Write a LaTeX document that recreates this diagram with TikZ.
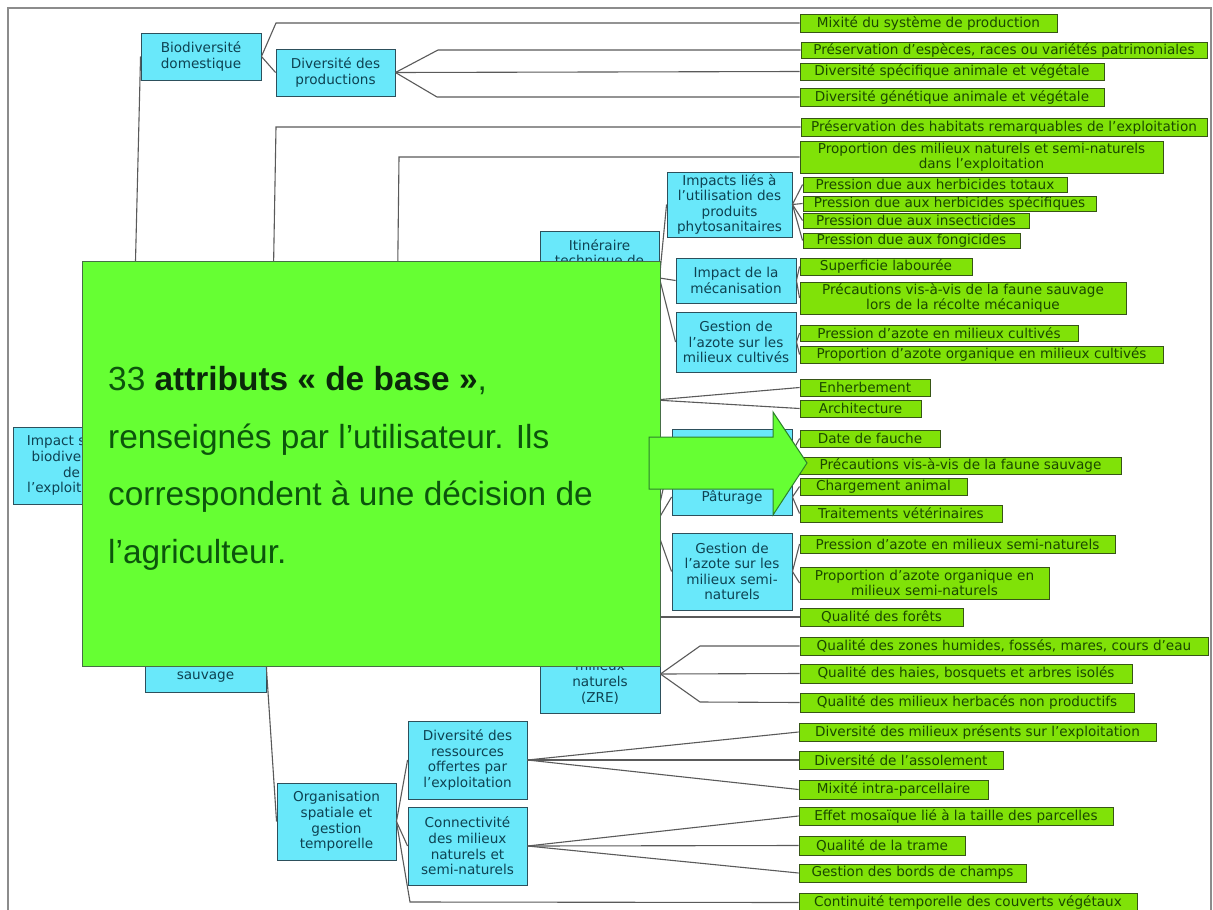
\documentclass[tikz,border=0pt]{standalone}
\usepackage{fontspec}
\setmainfont{Liberation Sans}
\newfontfamily\dvs{DejaVu Sans}
\definecolor{cyfill}{RGB}{105,232,250}
\definecolor{cydraw}{RGB}{45,80,92}
\definecolor{cytext}{RGB}{14,66,82}
\definecolor{lmfill}{RGB}{128,226,8}
\definecolor{lmdraw}{RGB}{55,85,22}
\definecolor{lmtext}{RGB}{26,72,0}
\definecolor{bigfill}{RGB}{102,255,51}
\definecolor{bigdraw}{RGB}{70,110,70}
\definecolor{bigtext}{RGB}{12,85,12}
\definecolor{bigbold}{RGB}{10,40,10}
\definecolor{arrdraw}{RGB}{45,130,45}
\definecolor{lncol}{RGB}{90,90,90}
\definecolor{framecol}{RGB}{140,140,140}
\newcommand{\mybox}[7]{\node[#1,minimum width={(#5-#3)*1pt},minimum height={(#6-#4)*1pt}] (#2) at ({(#3+#5)/2},{-(#4+#6)/2}) {#7};}
\begin{document}
\begin{tikzpicture}[x=1pt,y=1pt,
  cy/.style={draw=cydraw,fill=cyfill,line width=0.9pt,inner sep=0pt,align=center,text=cytext,font=\dvs\fontsize{13.6}{15.6}\selectfont},
  cytx/.style={inner sep=0pt,align=center,text=cytext,font=\dvs\fontsize{13.6}{15.6}\selectfont},
  lm/.style={draw=lmdraw,fill=lmfill,line width=0.9pt,inner sep=0pt,align=center,text=lmtext,font=\dvs\fontsize{13.6}{15}\selectfont},
  ln/.style={draw=lncol,line width=1.1pt},
  bigbox/.style={draw=bigdraw,fill=bigfill,line width=0.8pt,inner sep=0pt},
  bigtx/.style={anchor=base west,inner sep=0pt,text=bigtext,font=\fontsize{33.4}{40}\selectfont},
  arrowst/.style={draw=arrdraw,fill=bigfill,line width=1pt,line join=miter},
  framest/.style={draw=framecol,line width=1.5pt}]
\useasboundingbox (0,0) rectangle (1213,-910);
\fill[white] (0,0) rectangle (1213,-910);
\draw[framest] (8,-915) -- (8,-8) -- (1211,-8) -- (1211,-915);

% cyan boxes
\mybox{cy}{root}{13}{427}{130}{504}{Impact sur la\\biodiversité\\de\\l’exploitation}
\mybox{cy}{bio}{141}{33}{261}{80}{Biodiversité\\domestique}
\mybox{cy}{divprod}{276}{49}{395}{96}{Diversité des\\productions}
\mybox{cy}{sauv}{145}{645}{266}{692}{}
\node[cytx] (sauvt) at (205.5,-677) {sauvage};
\mybox{cy}{itin}{540}{231}{659}{325}{}
\node[cytx] (itint) at (599.5,-254) {Itinéraire\\technique de};
\mybox{cy}{impacts}{667}{172}{792}{237}{Impacts liés à\\l’utilisation des\\produits\\phytosanitaires}
\mybox{cy}{meca}{676}{258}{796}{303}{Impact de la\\mécanisation}
\mybox{cy}{gazc}{676}{312}{796}{372}{Gestion de\\l’azote sur les\\milieux cultivés}
\mybox{cy}{fauche}{672}{429}{792}{474}{}
\mybox{cy}{pat}{672}{479}{792}{515}{Pâturage}
\mybox{cy}{gazs}{672}{533}{792}{610}{Gestion de\\l’azote sur les\\milieux semi-\\naturels}
\mybox{cy}{zre}{540}{635}{660}{713}{}
\node[cytx,font=\dvs\fontsize{13.6}{16}\selectfont] (zret) at (600,-682) {milieux\\naturels\\(ZRE)};
\mybox{cy}{org}{277}{783}{396}{860}{Organisation\\spatiale et\\gestion\\temporelle}
\mybox{cy}{divres}{408}{721}{527}{799}{Diversité des\\ressources\\offertes par\\l’exploitation}
\mybox{cy}{conn}{408}{807}{527}{885}{Connectivité\\des milieux\\naturels et\\semi-naturels}

% lime boxes
\mybox{lm}{mixite}{800}{14}{1057}{32}{Mixité du système de production}
\mybox{lm}{presesp}{801}{42}{1207}{58}{Préservation d’espèces, races ou variétés patrimoniales}
\mybox{lm}{divspec}{800}{63}{1104}{80}{Diversité spécifique animale et végétale}
\mybox{lm}{divgen}{800}{88}{1104}{106}{Diversité génétique animale et végétale}
\mybox{lm}{habitats}{801}{118}{1207}{136}{Préservation des habitats remarquables de l’exploitation}
\mybox{lm}{propmil}{800}{141}{1163}{173}{Proportion des milieux naturels et semi-naturels\\dans l’exploitation}
\mybox{lm}{herbtot}{803}{177}{1067}{192}{Pression due aux herbicides totaux}
\mybox{lm}{herbspec}{803}{196}{1096}{211}{Pression due aux herbicides spécifiques}
\mybox{lm}{insect}{803}{213}{1029}{228}{Pression due aux insecticides}
\mybox{lm}{fongi}{803}{233}{1020}{248}{Pression due aux fongicides}
\mybox{lm}{superf}{800}{258}{972}{275}{Superficie labourée}
\mybox{lm}{precrec}{800}{282}{1126}{314}{Précautions vis-à-vis de la faune sauvage\\lors de la récolte mécanique}
\mybox{lm}{pazc}{800}{325}{1078}{341}{Pression d’azote en milieux cultivés}
\mybox{lm}{propazc}{800}{346}{1163}{363}{Proportion d’azote organique en milieux cultivés}
\mybox{lm}{enherb}{800}{379}{930}{396}{Enherbement}
\mybox{lm}{archi}{800}{400}{921}{417}{Architecture}
\mybox{lm}{datef}{800}{430}{940}{447}{Date de fauche}
\mybox{lm}{precfs}{800}{457}{1121}{474}{Précautions vis-à-vis de la faune sauvage}
\mybox{lm}{charg}{800}{478}{967}{495}{Chargement animal}
\mybox{lm}{trait}{800}{505}{1002}{522}{Traitements vétérinaires}
\mybox{lm}{pazs}{800}{535}{1115}{553}{Pression d’azote en milieux semi-naturels}
\mybox{lm}{propazs}{800}{567}{1049}{599}{Proportion d’azote organique en\\milieux semi-naturels}
\mybox{lm}{forets}{800}{608}{963}{626}{Qualité des forêts}
\mybox{lm}{zh}{800}{637}{1208}{655}{Qualité des zones humides, fossés, mares, cours d’eau}
\mybox{lm}{haies}{800}{664}{1132}{683}{Qualité des haies, bosquets et arbres isolés}
\mybox{lm}{herbac}{800}{693}{1134}{712}{Qualité des milieux herbacés non productifs}
\mybox{lm}{divmil}{799}{723}{1156}{741}{Diversité des milieux présents sur l’exploitation}
\mybox{lm}{divass}{799}{751}{1003}{769}{Diversité de l’assolement}
\mybox{lm}{mixintra}{799}{780}{988}{799}{Mixité intra-parcellaire}
\mybox{lm}{effet}{799}{807}{1113}{825}{Effet mosaïque lié à la taille des parcelles}
\mybox{lm}{trame}{799}{836}{965}{855}{Qualité de la trame}
\mybox{lm}{bords}{799}{864}{1026}{882}{Gestion des bords de champs}
\mybox{lm}{cont}{799}{893}{1137}{912}{Continuité temporelle des couverts végétaux}

% hidden junctions / elbows
\coordinate (e1) at (276,-23);
\coordinate (e2) at (438,-50);
\coordinate (e3) at (437,-97);
\coordinate (e4) at (276,-127);
\coordinate (h2) at (396,-420);
\coordinate (e5) at (399,-157);
\coordinate (h3) at (655,-400);
\coordinate (h4) at (655,-525);
\coordinate (h5) at (655,-617);
\coordinate (e6) at (700,-646);
\coordinate (e7) at (700,-702);
\coordinate (e8) at (410,-902);

% connectors
\draw[ln] (root.east) -- (bio.west);
\draw[ln] (bio.east) -- (e1) -- (mixite.west);
\draw[ln] (bio.east) -- (divprod.west);
\draw[ln] (divprod.east) -- (e2) -- (presesp.west);
\draw[ln] (divprod.east) -- (divspec.west);
\draw[ln] (divprod.east) -- (e3) -- (divgen.west);
\draw[ln] (sauv.east) -- (e4) -- (habitats.west);
\draw[ln] (sauv.east) -- (org.west);
\draw[ln] (h2) -- (e5) -- (propmil.west);
\draw[ln] (itin.east) -- (impacts.west);
\draw[ln] (itin.east) -- (meca.west);
\draw[ln] (itin.east) -- (gazc.west);
\foreach \t in {herbtot,herbspec,insect,fongi} \draw[ln] (impacts.east) -- (\t.west);
\foreach \t in {superf,precrec} \draw[ln] (meca.east) -- (\t.west);
\foreach \t in {pazc,propazc} \draw[ln] (gazc.east) -- (\t.west);
\foreach \t in {enherb,archi} \draw[ln] (h3) -- (\t.west);
\foreach \t in {fauche,pat,gazs} \draw[ln] (h4) -- (\t.west);
\foreach \t in {datef,precfs} \draw[ln] (fauche.east) -- (\t.west);
\foreach \t in {charg,trait} \draw[ln] (pat.east) -- (\t.west);
\foreach \t in {pazs,propazs} \draw[ln] (gazs.east) -- (\t.west);
\draw[ln] (h5) -- (forets.west);
\draw[ln] (zre.east) -- (e6) -- (zh.west);
\draw[ln] (zre.east) -- (haies.west);
\draw[ln] (zre.east) -- (e7) -- (herbac.west);
\draw[ln] (org.east) -- (divres.west);
\draw[ln] (org.east) -- (conn.west);
\draw[ln] (org.east) -- (e8) -- (cont.west);
\foreach \t in {divmil,divass,mixintra} \draw[ln] (divres.east) -- (\t.west);
\foreach \t in {effet,trame,bords} \draw[ln] (conn.east) -- (\t.west);

% big green overlay
\node[bigbox,minimum width=578pt,minimum height=405pt] (big) at (371,-463.5) {};
\node[bigtx] (l1) at (108,-390) {33 {\bfseries\color{bigbold}attributs « de base »},};
\node[bigtx] (l2) at (108,-448) {renseignés par l’utilisateur. Ils};
\node[bigtx] (l3) at (108,-505.5) {correspondent à une décision de};
\node[bigtx] (l4) at (108,-563) {l’agriculteur.};

% block arrow
\draw[arrowst] (649,-437) -- (773,-437) -- (773,-412) -- (807,-463) -- (773,-515) -- (773,-489) -- (649,-489) -- cycle;
\end{tikzpicture}
\end{document}
